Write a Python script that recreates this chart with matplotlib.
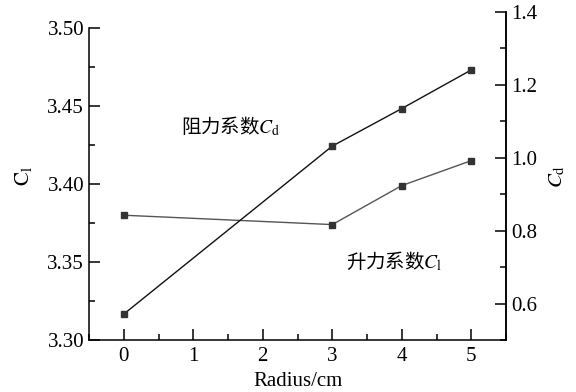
import matplotlib
matplotlib.use('Agg')
import matplotlib.pyplot as plt
from matplotlib.ticker import MultipleLocator

# data
radius = [0, 3, 4, 5]
cl = [3.380, 3.374, 3.399, 3.415]   # lift coefficient, left axis
cd = [0.571, 1.032, 1.135, 1.241]   # drag coefficient, right axis

plt.rcParams['font.family'] = ['Liberation Serif', 'Noto Sans CJK SC']
plt.rcParams['mathtext.fontset'] = 'stix'
plt.rcParams['font.size'] = 15

fig = plt.figure(figsize=(5.76, 3.92), dpi=100)
ax = fig.add_axes([89 / 576, 1 - 340 / 392, (506 - 89) / 576, (340 - 12) / 392])
ax2 = ax.twinx()

ax.plot(radius, cl, '-', color='#555555', lw=1.0, marker='s', ms=4.5,
        mfc='#333333', mec='#333333', zorder=3)
ax2.plot(radius, cd, '-', color='#111111', lw=1.0, marker='s', ms=4.5,
         mfc='#333333', mec='#333333', zorder=3)

ax.set_xlim(-0.5, 5.5)
ax.set_ylim(3.30, 3.5103)
ax2.set_ylim(0.5, 1.4)

ax.spines['left'].set_bounds(3.30, 3.50)
for a in (ax, ax2):
    a.spines['top'].set_visible(False)
    for s in a.spines.values():
        s.set_linewidth(1.1)
ax2.spines['left'].set_visible(False)
ax2.spines['bottom'].set_visible(False)

ax.xaxis.set_major_locator(MultipleLocator(1))
ax.xaxis.set_minor_locator(MultipleLocator(0.5))
ax.set_yticks([3.30, 3.35, 3.40, 3.45, 3.50])
ax.set_yticks([3.325, 3.375, 3.425, 3.475], minor=True)
ax2.yaxis.set_major_locator(MultipleLocator(0.2))
ax2.yaxis.set_minor_locator(MultipleLocator(0.1))

ax.tick_params(axis='both', which='major', direction='in', length=8, width=1.1, labelsize=15)
ax.tick_params(axis='x', which='major', pad=5)
ax.tick_params(axis='both', which='minor', direction='in', length=4.5, width=1.1)
ax.tick_params(axis='x', which='both', top=False)
ax.tick_params(axis='y', which='both', right=False)
ax2.tick_params(axis='y', which='major', direction='in', length=8, width=1.1, labelsize=15)
ax2.tick_params(axis='y', which='minor', direction='in', length=4.5, width=1.1)

ax.set_yticklabels(['3.30', '3.35', '3.40', '3.45', '3.50'])
ax2.set_yticks([0.6, 0.8, 1.0, 1.2, 1.4])
ax2.set_yticklabels(['0.6', '0.8', '1.0', '1.2', '1.4'])

ax.set_xlabel('Radius/cm', fontsize=15, labelpad=4)
ax.set_ylabel(r'$\mathrm{C_l}$', fontsize=15, labelpad=10)
ax2.set_ylabel(r'$C_{\mathrm{d}}$', fontsize=15, labelpad=8)

cjk = ['Noto Sans CJK SC', 'Liberation Serif']
ax.text(0.83, 3.437, r'阻力系数$C_{\mathrm{d}}$', family=cjk, fontsize=14, va='center')
ax.text(3.2, 3.350, r'升力系数$C_{\mathrm{l}}$', family=cjk, fontsize=14, va='center')

fig.savefig('out.png', dpi=100)
